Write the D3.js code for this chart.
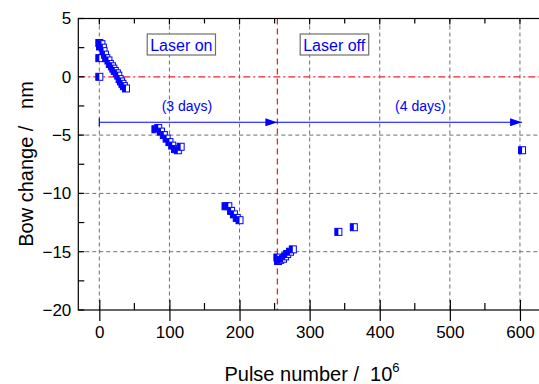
<!DOCTYPE html>
<html><head><meta charset="utf-8">
<script src="https://cdn.jsdelivr.net/npm/d3@7"></script>
<style>body{margin:0;background:#fff}svg{display:block;font-family:"Liberation Sans",Arial,sans-serif}</style>
</head><body><svg id="c" width="539" height="384"></svg>
<script>
const pulse = [0,1,0,0,3,5,6,8,10,13,15,18,20,22,25,27,29,31,33,35,38,
  80,84,88,92,96,100,104,108,112,116,
  180,184,188,192,196,200,
  254,255,258,262,265,268,272,276,
  341,363,
  603];
const bow = [2.9,2.6,1.6,0.0,2.8,2.5,2.2,1.9,1.6,1.4,1.1,0.9,0.7,0.5,0.3,0.1,-0.2,-0.4,-0.6,-0.8,-1.0,
  -4.5,-4.4,-4.7,-5.0,-5.3,-5.6,-5.9,-6.2,-6.3,-6.0,
  -11.1,-11.1,-11.5,-11.8,-12.1,-12.3,
  -15.5,-15.8,-15.7,-15.6,-15.4,-15.2,-15.0,-14.8,
  -13.3,-12.9,
  -6.3];
const xTicks = [0,100,200,300,400,500,600];
const yTicks = [5,0,-5,-10,-15,-20];
const gridX = [0,100,200,300,400,500,600];
const gridY = [-5,-10,-15];
const laserOffAt = 254;
const arrowY = -3.9;
const arrows = [[0,254],[254,603]];
const arrowLabels = [["(3 days)",125],["(4 days)",458]];
const boxLabels = [["Laser on",117],["Laser off",335]];

const svg = d3.select("#c");
const x = d3.scaleLinear().domain([-30,650]).range([78.3,555]);
const y = d3.scaleLinear().domain([-20,5]).range([310,18.5]);
const blue = "#0000ff", red = "#e8262a";
const ff = "Liberation Sans, Arial, sans-serif";

// gridlines
svg.append("g").selectAll("line").data(gridX).join("line")
  .attr("x1",d=>x(d)).attr("x2",d=>x(d)).attr("y1",y(5)).attr("y2",y(-20))
  .attr("stroke","#6e6e6e").attr("stroke-width",1).attr("stroke-dasharray","4,3");
svg.append("g").selectAll("line").data(gridY).join("line")
  .attr("x1",x(-30)).attr("x2",x(650)).attr("y1",d=>y(d)).attr("y2",d=>y(d))
  .attr("stroke","#6e6e6e").attr("stroke-width",1).attr("stroke-dasharray","4,3");

// red reference lines
svg.append("line").attr("x1",x(-30)).attr("x2",x(650)).attr("y1",y(0)).attr("y2",y(0))
  .attr("stroke",red).attr("stroke-width",1.3).attr("stroke-dasharray","7,3,2,3");
svg.append("line").attr("x1",x(laserOffAt)).attr("x2",x(laserOffAt)).attr("y1",y(5)).attr("y2",y(-20))
  .attr("stroke",red).attr("stroke-width",1.3).attr("stroke-dasharray","6,4");

// frame
svg.append("rect").attr("x",x(-30)).attr("y",y(5)).attr("width",x(650)-x(-30)).attr("height",y(-20)-y(5))
  .attr("fill","none").attr("stroke","#000").attr("stroke-width",1.2);

// axes
const xAxisB = d3.axisBottom(x).tickValues(xTicks).tickSizeInner(11).tickSizeOuter(0).tickPadding(5).tickFormat(d3.format("d"));
const gB = svg.append("g").attr("transform",`translate(0,${y(-20)})`).call(xAxisB);
gB.select(".domain").remove();
gB.selectAll(".tick line").attr("y1",-10).attr("stroke","#000").attr("stroke-width",1.2);
gB.selectAll("text").attr("font-size",17).attr("fill","#000").attr("font-family",ff);
// minor bottom ticks
svg.append("g").selectAll("line").data(d3.range(50,650,100)).join("line")
  .attr("x1",d=>x(d)).attr("x2",d=>x(d)).attr("y1",y(-20)).attr("y2",y(-20)-7)
  .attr("stroke","#000").attr("stroke-width",1.2);
// top ticks
svg.append("g").selectAll("line").data(d3.range(0,650,50)).join("line")
  .attr("x1",d=>x(d)).attr("x2",d=>x(d)).attr("y1",y(5)).attr("y2",d=>y(5)+(d%100===0?6:5))
  .attr("stroke","#000").attr("stroke-width",1.2);

const yAxisL = d3.axisLeft(y).tickValues(yTicks).tickSize(0).tickPadding(7).tickFormat(d3.format("d"));
const gL = svg.append("g").attr("transform",`translate(${x(-30)},0)`).call(yAxisL);
gL.select(".domain").remove();
gL.selectAll("text").attr("font-size",17).attr("fill","#000").attr("font-family",ff);
svg.append("g").selectAll("line").data(d3.range(5,-20.1,-2.5)).join("line")
  .attr("x1",x(-30)).attr("x2",x(-30)+6).attr("y1",d=>y(d)).attr("y2",d=>y(d))
  .attr("stroke","#000").attr("stroke-width",1.2);

// axis titles
const xt = svg.append("text").attr("x",312).attr("y",381).attr("text-anchor","middle")
  .attr("font-size",20).attr("fill","#000").style("white-space","pre");
xt.append("tspan").text("Pulse number /  10");
xt.append("tspan").attr("dy",-9).attr("font-size",13).text("6");
svg.append("text").attr("transform","translate(33,164) rotate(-90)").attr("text-anchor","middle")
  .attr("font-size",20).attr("fill","#000").style("white-space","pre").text("Bow change /   nm");

// arrows
const defs = svg.append("defs");
defs.append("marker").attr("id","ah").attr("viewBox","0 0 12 8").attr("refX",12).attr("refY",4)
  .attr("markerWidth",12).attr("markerHeight",8).attr("markerUnits","userSpaceOnUse").attr("orient","auto")
  .append("path").attr("d","M0,0L12,4L0,8Z").attr("fill",blue);
svg.append("g").selectAll("line").data(arrows).join("line")
  .attr("x1",d=>x(d[0])).attr("x2",d=>x(d[1])).attr("y1",y(arrowY)).attr("y2",y(arrowY))
  .attr("stroke",blue).attr("stroke-width",1.2).attr("marker-end","url(#ah)");
svg.append("line").attr("x1",x(0)).attr("x2",x(0)).attr("y1",y(arrowY)-4).attr("y2",y(arrowY)+4)
  .attr("stroke",blue).attr("stroke-width",1.2);
svg.append("g").selectAll("text").data(arrowLabels).join("text")
  .attr("x",d=>x(d[1])).attr("y",y(arrowY)-11).attr("text-anchor","middle")
  .attr("font-size",14).attr("fill",blue).text(d=>d[0]);

// boxes
boxLabels.forEach(([t,v])=>{
  const g = svg.append("g");
  const tx = g.append("text").attr("x",x(v)).attr("y",51).attr("text-anchor","middle")
    .attr("font-size",16).attr("fill",blue).text(t);
  const bb = tx.node().getBBox();
  g.insert("rect","text").attr("x",bb.x-3).attr("y",34).attr("width",bb.width+6).attr("height",21)
    .attr("fill","#fff").attr("stroke","#6e6e6e").attr("stroke-width",1.2);
});

// points
const pts = svg.append("g").selectAll("g").data(pulse.map((p,i)=>[p,bow[i]])).join("g")
  .attr("transform",d=>`translate(${x(d[0])},${y(d[1])})`);
pts.append("rect").attr("x",-3.5).attr("y",-3.5).attr("width",7).attr("height",7)
  .attr("fill","#fff").attr("stroke",blue).attr("stroke-width",1);
pts.append("rect").attr("x",-3.5).attr("y",-3.5).attr("width",3.5).attr("height",7).attr("fill",blue);
</script></body></html>
